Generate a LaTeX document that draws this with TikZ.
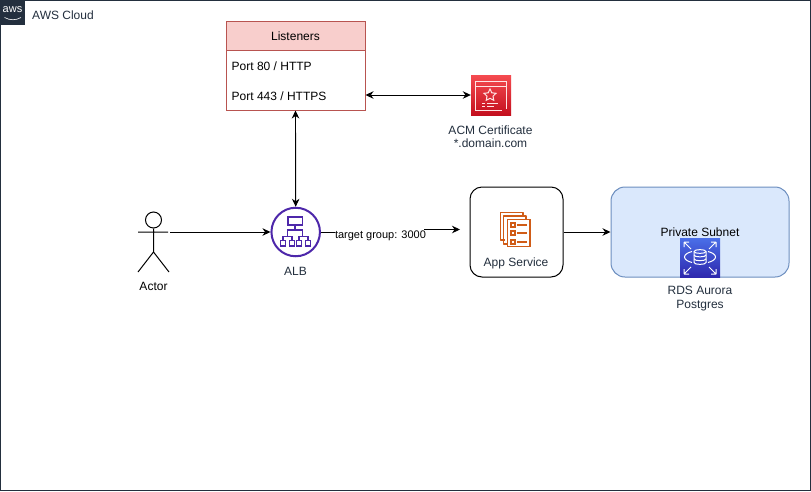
\documentclass[tikz,border=0pt]{standalone}
\usepackage{fontspec}
\setmainfont{Liberation Sans}
\usetikzlibrary{arrows.meta,shapes.geometric,calc}
\definecolor{navy}{HTML}{232F3E}
\definecolor{txt}{HTML}{232F3E}
\definecolor{hdr}{HTML}{F8CECC}
\definecolor{hdrline}{HTML}{B85450}
\definecolor{subfill}{HTML}{DAE8FC}
\definecolor{subline}{HTML}{6C8EBF}
\definecolor{albc}{HTML}{4D27AA}
\definecolor{appc}{HTML}{D05C17}
\definecolor{acmlo}{HTML}{C40F1E}
\definecolor{acmhi}{HTML}{F54B50}
\definecolor{rdslo}{HTML}{2E27AD}
\definecolor{rdshi}{HTML}{4A6FE8}
\tikzset{
  x=1pt,y=-1pt,
  conn/.style={draw=black,line width=0.9pt,-{Stealth[length=8pt,width=7.5pt]}},
  conntwo/.style={draw=black,line width=0.9pt,{Stealth[length=8pt,width=7.5pt]}-{Stealth[length=8pt,width=7.5pt]}},
  lbl/.style={font=\fontsize{12}{14}\selectfont,text=black,inner sep=0pt,align=center,yshift=-0.8pt},
  icolbl/.style={font=\fontsize{12}{14}\selectfont,text=txt,inner sep=0pt,align=center,yshift=-0.8pt},
  albline/.style={draw=albc,line width=1.5pt},
  appline/.style={draw=appc,line width=1.3pt},
  wline/.style={draw=white!90!red,line width=1pt},
  wthin/.style={draw=white,line width=1pt},
}
\begin{document}
\begin{tikzpicture}
\useasboundingbox (0,0) rectangle (811,491);
\fill[white] (0,0) rectangle (811,491);
% cloud frame
\node[draw=navy,line width=1pt,minimum width=810pt,minimum height=490pt,inner sep=0pt] (cloud) at (405.5,245.5) {};
\node[fill=navy,minimum width=25pt,minimum height=25pt,inner sep=0pt] (awslogo) at (12.5,12.5) {};
\node[font=\fontsize{11}{12}\selectfont,text=white,inner sep=0pt] (awstext) at (12.5,10) {aws};
\draw[white,line width=0.6pt] (4.5,17.5) .. controls (10,20.5) and (16,20.5) .. (21,17.5);
\node[icolbl,anchor=west] (cloudlbl) at (32,14) {AWS Cloud};
% listeners
\node[draw=hdrline,fill=white,line width=1pt,minimum width=139pt,minimum height=89pt,inner sep=0pt] (listeners) at (295.5,65.5) {};
\node[draw=hdrline,fill=hdr,line width=1pt,minimum width=139pt,minimum height=29pt,inner sep=0pt] (hdrbox) at (295.5,35.5) {};
\node[lbl] (hdrlbl) at (295.5,35.5) {Listeners};
\node[lbl,anchor=west] (p80) at (231.5,65.5) {Port 80 / HTTP};
\node[lbl,anchor=west] (p443) at (231.5,95.5) {Port 443 / HTTPS};
% ACM icon
\node[minimum width=40pt,minimum height=40pt,inner sep=0pt,bottom color=acmlo,top color=acmhi] (acm) at (491,95) {};
\draw[wline] (506,109) -- (506,81) -- (475.5,81) -- (475.5,110.5) -- (502,110.5);
\draw[wline] (475.5,86) -- (506,86);
\draw[wline,line join=miter] (490,89) -- (491.8,92.8) -- (496,93.3) -- (493,96.2) -- (493.8,100.3) -- (490,98.3) -- (486.2,100.3) -- (487,96.2) -- (484,93.3) -- (488.2,92.8) -- cycle;
\draw[wline] (482,103) -- (485,103) (487,103) -- (498,103) (482,106) -- (485,106) (487,106) -- (494,106);
\node[icolbl] (acmlbl) at (490.5,136) {ACM Certificate\\[-0.5pt]*.domain.com};
% actor
\coordinate (actorL) at (138,232);
\coordinate (actorR) at (170,232);
\node[draw=black,circle,line width=1pt,minimum size=16pt,inner sep=0pt] (head) at (153.5,220) {};
\coordinate (hip) at (153.5,252);
\draw[black,line width=1pt] (head.south) -- (hip) (actorL) -- (168,232) (hip) -- (138,272) (hip) -- (169,272);
\node[lbl] (actorlbl) at (153.5,285.5) {Actor};
% ALB
\node[circle,draw=albc,line width=2pt,minimum size=48.5pt,inner sep=0pt] (alb) at (295.7,232) {};
\draw[albline] (288,217) rectangle (302.5,225);
\draw[albline] (295.2,225) -- (295.2,230) (287.7,236.5) -- (287.7,230) -- (302.7,230) -- (302.7,236.5);
\draw[albline] (283,240) -- (283,236.5) -- (292,236.5) -- (292,240) (299,240) -- (299,236.5) -- (308,236.5) -- (308,240);
\foreach \cx in {283,292,299,308} \draw[albline] (\cx-2.7,240.3) rectangle (\cx+2.7,246);
\node[icolbl] (alblbl) at (295.5,270.5) {ALB};
% app
\node[draw=black,line width=1pt,rounded corners=12pt,fill=white,minimum width=93pt,minimum height=90pt,inner sep=0pt] (app) at (516.5,232) {};
\draw[appline,line join=round] (505,240) -- (500.5,240) -- (500.5,212.5) -- (523,212.5) -- (523,216);
\draw[appline,line join=round] (507,244) -- (503.5,244) -- (503.5,216) -- (526,216) -- (526,219);
\draw[appline,fill=white] (507.5,219.5) rectangle (530,246.5);
\foreach \cy in {225,233,242} {\draw[appline] (511,\cy-2) rectangle (515,\cy+2); \draw[appline] (517,\cy) -- (527,\cy);}
\node[icolbl] (applbl) at (516,262.5) {App Service};
% private subnet
\node[draw=subline,fill=subfill,line width=1pt,rounded corners=14pt,minimum width=178pt,minimum height=90pt,inner sep=0pt] (subnet) at (700,232) {};
\node[lbl] (sublbl) at (700,231.5) {Private Subnet};
% RDS icon
\node[minimum width=40pt,minimum height=39.5pt,inner sep=0pt,bottom color=rdslo,top color=rdshi] (rds) at (700,257.75) {};
\draw[wthin] (694,251.5) .. controls (694,249) and (706,249) .. (706,251.5) -- (706,262.5) .. controls (706,265) and (694,265) .. (694,262.5) -- cycle;
\draw[wthin] (694,251.5) .. controls (694,254) and (706,254) .. (706,251.5);
\draw[wthin] (694,255) .. controls (694,257.5) and (706,257.5) .. (706,255);
\draw[wthin] (694,258.8) .. controls (694,261.3) and (706,261.3) .. (706,258.8);
\draw[wthin] (692,251.5) .. controls (682,254) and (682,260) .. (692,262.5);
\draw[wthin] (708,251.5) .. controls (718,254) and (718,260) .. (708,262.5);
\draw[wthin] (684,242) -- (691,249) (684,242) -- (684,247) (684,242) -- (689,242);
\draw[wthin] (716,242) -- (709,249) (716,242) -- (716,247) (716,242) -- (711,242);
\draw[wthin] (684,274) -- (691,267) (684,274) -- (684,269) (684,274) -- (689,274);
\draw[wthin] (716,274) -- (709,267) (716,274) -- (716,269) (716,274) -- (711,274);
\node[icolbl] (rdslbl) at (700,297.5) {RDS Aurora\\[-0.5pt]Postgres};
% connectors
\draw[conntwo] (acm.west -| listeners.east) -- (acm.west);
\draw[conntwo] (listeners.south) -- (alb.north);
\draw[conn] (actorR) -- (alb.west);
\draw[conn] (app.east) -- (subnet.west);
\coordinate (tgt) at (460,229.5);
\draw[conn] (alb.east) -- (424,232) -- (424,229.5) -- (tgt);
\node[lbl,fill=white,inner xsep=0.5pt,inner ysep=1pt,font=\fontsize{11}{13}\selectfont] (tg) at (380.5,235) {target group: 3000};
\end{tikzpicture}
\end{document}
